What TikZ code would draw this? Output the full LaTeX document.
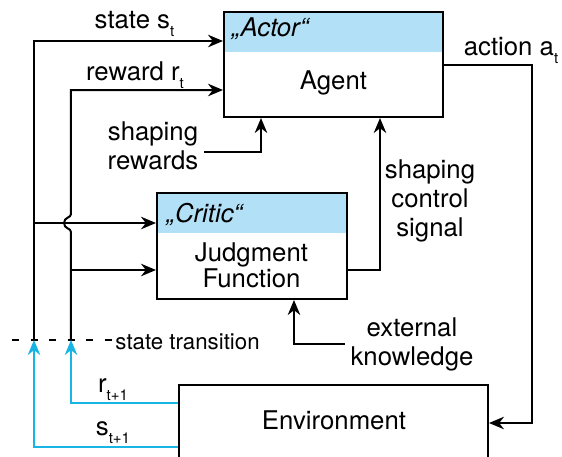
\documentclass[tikz,border=0pt]{standalone}
\usepackage{fontspec}
\setmainfont{TeX Gyre Heros}
\usetikzlibrary{arrows.meta}
\definecolor{headblue}{RGB}{178,224,246}
\definecolor{flowcyan}{RGB}{24,180,228}
\tikzstyle{block}=[draw, line width=0.8pt, fill=white, inner sep=0pt]
\tikzstyle{headed}=[block, path picture={\fill[headblue] (path picture bounding box.north west) rectangle ([yshift=-16pt]path picture bounding box.north east);}]
\tikzstyle{label}=[align=center, inner sep=2pt]
\tikzstyle{flow}=[-{Stealth[length=6pt,width=5pt]}, line width=0.8pt]
\tikzstyle{feedback}=[flow, draw=flowcyan]
\newcommand{\lowsub}[1]{\raisebox{-3.5pt}{\fontsize{6}{7}\selectfont #1}}
\begin{document}
\begin{tikzpicture}[x=0.4pt, y=-0.4pt, font=\fontsize{10.3}{11.6}\selectfont]
\clip (0,0) rectangle (562,456);

% boxes
\node (agent) [headed, minimum width=87.6pt, minimum height=42pt] at (333.5,64.5) {};
\node (actorlbl) [anchor=base west, inner sep=0pt] at (231,36) {\textit{„Actor“}};
\node (agentlbl) [anchor=base, inner sep=0pt] at (333.5,89) {Agent};

\node (critic) [headed, minimum width=76pt, minimum height=42.4pt] at (252,246) {};
\node (criticlbl) [anchor=base west, inner sep=0pt] at (166,222) {\textit{„Critic“}};
\node (criticname) [label, font=\fontsize{10.3}{10.4}\selectfont] at (251.5,265.5) {Judgment\\Function};

\node (env) [block, minimum width=123.6pt, minimum height=38pt] at (333.5,432.5) {};
\node (envlbl) [anchor=base, inner sep=0pt] at (334,429) {Environment};

% labels
\node (statelbl) [anchor=base, inner sep=0pt] at (134.5,28) {state s\lowsub{t}};
\node (rewardlbl) [anchor=base, inner sep=0pt] at (135,80) {reward r\lowsub{t}};
\node (actionlbl) [anchor=base, inner sep=0pt] at (511,55) {action a\lowsub{t}};
\node (srew) [label] at (153,145.5) {shaping\\rewards};
\node (sctrl) [label] at (430,200.5) {shaping\\control\\signal};
\node (extknow) [label] at (412,344.5) {external\\knowledge};
\node (translbl) [anchor=base west, inner sep=0pt, font=\fontsize{8.9}{10}\selectfont] at (115,349) {state transition};
\node (rnext) [anchor=base, inner sep=0pt] at (113,392) {r\lowsub{t+1}};
\node (snext) [anchor=base, inner sep=0pt] at (113,435) {s\lowsub{t+1}};

% state transition
\coordinate (strans) at (34,340);
\coordinate (rtrans) at (71,340);
\draw [line width=0.8pt, dash pattern=on 2.8pt off 4.6pt] (12,340) -- (112,340);

% inputs
\draw [flow] (strans) |- (agent.west |- 0,41);
\draw [flow] (strans |- 0,223) -- (critic.west |- 0,223);
\draw [flow] (rtrans) -- (71,232) .. controls (71,228) and (64,229) .. (64,223) .. controls (64,217) and (71,218) .. (71,214) |- (agent.west |- 0,90);
\draw [flow] (rtrans |- 0,270) -- (critic.west |- 0,270);
\draw [flow] (srew.east |- 0,152) -| (agent.south -| 261,0);
\draw [flow] (critic.east |- 0,270) -| (agent.south -| 380,0);
\draw [flow] (extknow.west |- 0,344) -| (critic.south -| 294,0);
\draw [flow] (agent.east |- 0,65) -| (532,423) -- (env.east |- 0,423);

% feedback
\draw [feedback] (env.west |- 0,403) -| (rtrans);
\draw [feedback] (env.west |- 0,447) -| (strans);
\end{tikzpicture}
\end{document}
